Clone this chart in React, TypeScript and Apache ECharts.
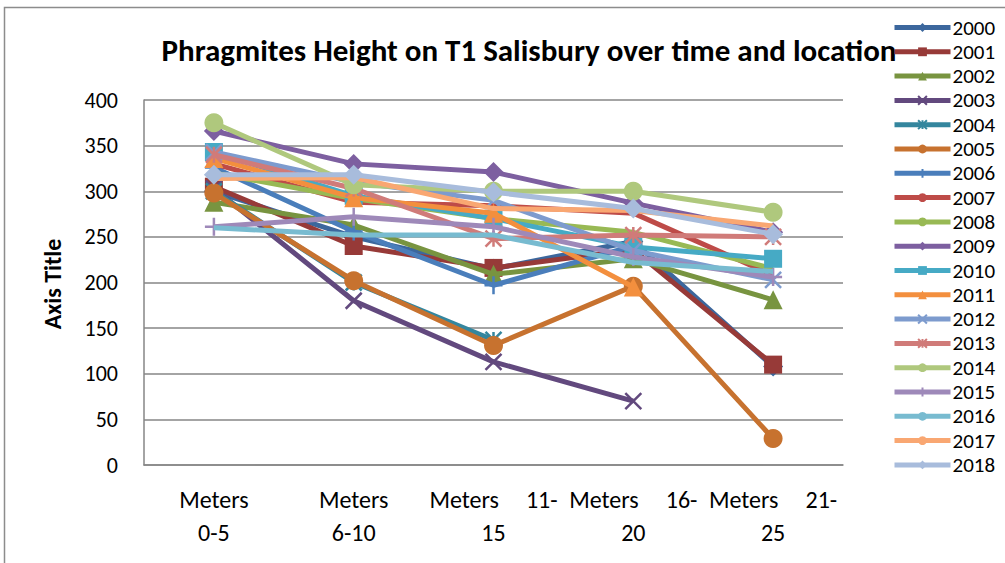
import React, { useEffect, useRef } from "react";
import * as echarts from "echarts";

const categories = ["Meters\n0-5", "Meters\n6-10", "Meters     11-\n15", "Meters     16-\n20", "Meters     21-\n25"];
const years = ["2000","2001","2002","2003","2004","2005","2006","2007","2008","2009","2010","2011","2012","2013","2014","2015","2016","2017","2018"];

const s2000 = [300, 250, 215, 245, 108];
const s2001 = [305, 240, 216, 236, 110];
const s2002 = [288, 263, 209, 226, 181];
const s2003 = [303, 180, 113, 70, null];
const s2004 = [300, 200, 137, null, null];
const s2005 = [298, 202, 131, 196, 29];
const s2006 = [326, 256, 197, 240, null];
const s2007 = [330, 288, 284, 276, 208];
const s2008 = [320, 292, 270, 255, 215];
const s2009 = [366, 330, 321, 287, 255];
const s2010 = [343, 295, 270, 239, 226];
const s2011 = [336, 293, 276, 195, null];
const s2012 = [343, 310, 290, 235, 203];
const s2013 = [340, 303, 248, 252, 250];
const s2014 = [375, 307, 300, 300, 277];
const s2015 = [261, 272, 261, 228, 206];
const s2016 = [260, 252, 252, 222, 212];
const s2017 = [314, 315, 281, 279, 262];
const s2018 = [318, 318, 299, 281, 253];

const seriesValues = [s2000, s2001, s2002, s2003, s2004, s2005, s2006, s2007, s2008, s2009, s2010, s2011, s2012, s2013, s2014, s2015, s2016, s2017, s2018];

const colors = ["#3C679D","#973A38","#789440","#62497E","#34869E","#C7722F","#4A7EBB","#BE4B48","#98B954","#7D5FA0","#46AAC5","#F38F3E","#7D9BCE","#D07B79","#AFC87D","#9E89B9","#78BBD0","#F9A772","#A8BCDC"];

const X_SYM = "path://M0,0L10,10M10,0L0,10";
const STAR_SYM = "path://M0,0L10,10M10,0L0,10M5,0L5,10";
const PLUS_SYM = "path://M5,0L5,10M0,5L10,5";

const markerTypes = ["diamond","rect","triangle","x","star","circle","plus","none","none","diamond","rect","triangle","x","star","circle","plus","none","none","diamond"];

function symbolFor(t: string) {
  switch (t) {
    case "diamond": return { symbol: "diamond", size: 20, stroke: false };
    case "rect": return { symbol: "rect", size: 18, stroke: false };
    case "triangle": return { symbol: "triangle", size: 19, stroke: false };
    case "circle": return { symbol: "circle", size: 19, stroke: false };
    case "x": return { symbol: X_SYM, size: 16, stroke: true };
    case "star": return { symbol: STAR_SYM, size: 16, stroke: true };
    case "plus": return { symbol: PLUS_SYM, size: 18, stroke: true };
    default: return { symbol: "none", size: 0, stroke: false };
  }
}

const FONT = "Carlito, Calibri, Lato, sans-serif";

export default function App() {
  const ref = useRef<HTMLDivElement>(null);
  useEffect(() => {
    if (!ref.current) return;
    const chart = echarts.init(ref.current, undefined, { renderer: "svg" });
    const series = years.map((y, i) => {
      const m = symbolFor(markerTypes[i]);
      return {
        name: y,
        type: "line",
        data: seriesValues[i],
        symbol: m.symbol,
        symbolSize: m.size,
        showSymbol: m.symbol !== "none",
        lineStyle: { color: colors[i], width: 5 },
        itemStyle: {
          color: m.stroke ? "rgba(0,0,0,0)" : colors[i],
          borderColor: colors[i],
          borderWidth: m.stroke ? 2.5 : 0,
        },
        emphasis: { disabled: true },
        z: 2 + i * 0.01,
      };
    });
    chart.setOption({
      animation: false,
      color: colors,
      textStyle: { fontFamily: FONT },
      graphic: [
        {
          type: "rect",
          shape: { x: 4.5, y: 7.5, width: 1100, height: 700 },
          style: { fill: "none", stroke: "#8c8c8c", lineWidth: 1.5 },
          z: -10,
          silent: true,
        },
        {
          type: "text",
          x: 529,
          y: 50,
          z: 0,
          style: {
            text: "Phragmites Height on T1 Salisbury over time and location",
            font: `bold 31px ${FONT}`,
            fill: "#000",
            textAlign: "center",
            textVerticalAlign: "middle",
          },
        },
        {
          type: "text",
          x: 52,
          y: 284,
          rotation: Math.PI / 2,
          style: {
            text: "Axis Title",
            font: `bold 24px ${FONT}`,
            fill: "#000",
            textAlign: "center",
            textVerticalAlign: "middle",
          },
        },
      ],
      legend: {
        orient: "vertical",
        left: 892,
        top: 17,
        height: 540,
        padding: 0,
        itemWidth: 56,
        itemHeight: 11,
        itemGap: 3.3,
        data: years,
        lineStyle: { width: 5 },
        textStyle: { fontSize: 21, color: "#000", fontFamily: FONT, padding: [0, 0, 0, -3] },
        z: 10,
      },
      grid: { left: 144, right: 162, top: 100, bottom: 98, containLabel: false },
      xAxis: {
        type: "category",
        data: categories,
        boundaryGap: true,
        axisLine: { show: true, lineStyle: { color: "#868686", width: 1.5 } },
        axisTick: { show: false },
        axisLabel: {
          color: "#000",
          fontSize: 24,
          fontFamily: FONT,
          lineHeight: 33,
          margin: 18,
          interval: 0,
          align: "center",
        },
        splitLine: { show: false },
      },
      yAxis: {
        type: "value",
        min: 0,
        max: 400,
        interval: 50,
        axisLine: { show: true, lineStyle: { color: "#868686", width: 1.5 } },
        axisTick: { show: false },
        axisLabel: { color: "#000", fontSize: 22, fontFamily: FONT, margin: 26 },
        splitLine: { show: true, lineStyle: { color: "#868686", width: 1.5 } },
      },
      series,
    });
    return () => chart.dispose();
  }, []);
  return (
    <div
      ref={ref}
      style={{ position: "fixed", left: 0, top: 0, width: 1005, height: 563, background: "#fff" }}
    />
  );
}
